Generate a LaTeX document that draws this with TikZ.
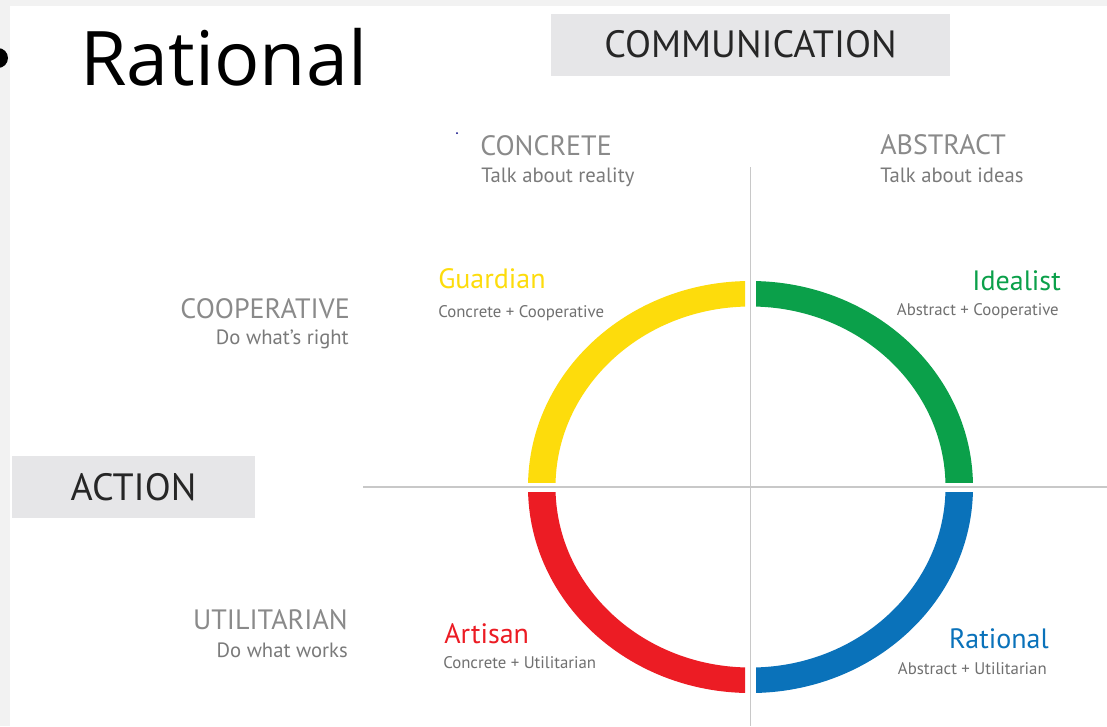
\documentclass[tikz,border=0pt]{standalone}
\usepackage{fontspec}
\setmainfont{PT Sans}
\newfontfamily\headfont{Open Sans}
\definecolor{pagegray}{HTML}{F2F2F2}
\definecolor{boxgray}{HTML}{E6E6E8}
\definecolor{axisgray}{HTML}{C8C8C8}
\definecolor{labgray}{HTML}{8A8A8A}
\definecolor{subgray}{HTML}{7A7A7A}
\definecolor{rolegray}{HTML}{707070}
\definecolor{cyellow}{HTML}{FDDC0C}
\definecolor{cgreen}{HTML}{0BA04A}
\definecolor{cred}{HTML}{EC1C24}
\definecolor{cblue}{HTML}{0A72BA}
\tikzset{
  cat/.style={inner sep=0pt, text=labgray, font=\fontsize{21}{21}\selectfont},
  catsub/.style={inner sep=0pt, text=subgray, font=\fontsize{15.5}{16}\selectfont},
  role/.style={inner sep=0pt, font=\fontsize{21}{21}\selectfont},
  rolesub/.style={inner sep=0pt, text=rolegray, font=\fontsize{12.6}{13}\selectfont},
  bigbox/.style={fill=boxgray, inner sep=0pt, text=black!85, font=\fontsize{28.5}{28.5}\selectfont},
  axis/.style={draw=axisgray, line width=1.4pt},
}
\begin{document}
\begin{tikzpicture}[x=0.75pt,y=-0.75pt]
\useasboundingbox (0,0) rectangle (1107,726);
\fill[pagegray] (0,0) rectangle (1107,726);
\fill[white] (10,6) rectangle (1107,726);
% heading
\fill[black] (-2,58) circle (10);
\node[inner sep=0pt, anchor=base west, font=\headfont\fontsize{56.5}{56.5}\selectfont] (title) at (80,85) {Rational};
% boxes
\node[bigbox, minimum width=399*0.75pt, minimum height=62*0.75pt] (comm) at (750.5,44.5) {COMMUNICATION};
\node[bigbox, minimum width=243*0.75pt, minimum height=62*0.75pt] (action) at (133.5,487) {ACTION};
% axes
\coordinate (vtop) at (750.5,167);
\coordinate (vbot) at (750.5,726);
\coordinate (hleft) at (363,487);
\coordinate (hright) at (1107,487);
\draw[axis] (vtop) -- (vbot);
\draw[axis] (hleft) -- (hright);
% ring quadrants
\begin{scope}
\clip (0,0) rectangle (745,482);
\fill[cyellow, even odd rule] (750.5,487) ellipse [x radius=222.5, y radius=206] (750.5,487) ellipse [x radius=195, y radius=180.5];
\end{scope}
\begin{scope}
\clip (756,0) rectangle (1107,482);
\fill[cgreen, even odd rule] (750.5,487) ellipse [x radius=222.5, y radius=206] (750.5,487) ellipse [x radius=195, y radius=180.5];
\end{scope}
\begin{scope}
\clip (0,492) rectangle (745,726);
\fill[cred, even odd rule] (750.5,487) ellipse [x radius=222.5, y radius=206] (750.5,487) ellipse [x radius=195, y radius=180.5];
\end{scope}
\begin{scope}
\clip (756,492) rectangle (1107,726);
\fill[cblue, even odd rule] (750.5,487) ellipse [x radius=222.5, y radius=206] (750.5,487) ellipse [x radius=195, y radius=180.5];
\end{scope}
% stray dot
\fill[blue!50!black] (457,133) circle (1);
% category labels
\node[cat, anchor=base west] (concrete) at (480,155) {CONCRETE};
\node[catsub, anchor=base west] (concretesub) at (481,182) {Talk about reality};
\node[cat, anchor=base west] (abstract) at (880,154) {ABSTRACT};
\node[catsub, anchor=base west] (abstractsub) at (880,182) {Talk about ideas};
\node[cat, anchor=base east] (coop) at (350,318) {COOPERATIVE};
\node[catsub, anchor=base east] (coopsub) at (349,344) {Do what’s right};
\node[cat, anchor=base east] (util) at (348,629) {UTILITARIAN};
\node[catsub, anchor=base east] (utilsub) at (348,657) {Do what works};
% roles
\node[role, text=cyellow, anchor=base west] (guardian) at (438,288) {Guardian};
\node[rolesub, anchor=base west] (guardiansub) at (438,317) {Concrete + Cooperative};
\node[role, text=cgreen, anchor=base east] (idealist) at (1061,290) {Idealist};
\node[rolesub, anchor=base east] (idealistsub) at (1059,315) {Abstract + Cooperative};
\node[role, text=cred, anchor=base west] (artisan) at (444,643) {Artisan};
\node[rolesub, anchor=base west] (artisansub) at (443,668) {Concrete + Utilitarian};
\node[role, text=cblue, anchor=base east] (rational) at (1049,648) {Rational};
\node[rolesub, anchor=base east] (rationalsub) at (1047,674) {Abstract + Utilitarian};
\end{tikzpicture}
\end{document}
